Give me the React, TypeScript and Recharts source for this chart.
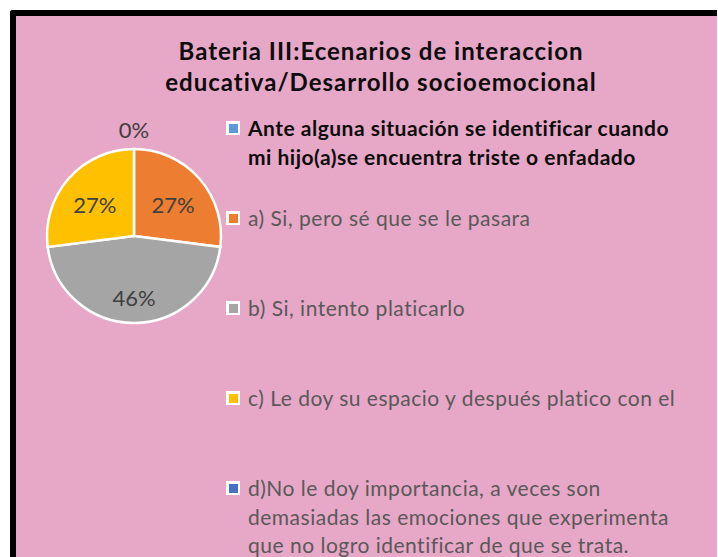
import React from "react";
import { PieChart, Pie, Cell, Legend } from "recharts";

const title = ["Bateria III:Ecenarios de interaccion", "educativa/Desarrollo socioemocional"];

const categories = [
  "Ante alguna situación se identificar cuando mi hijo(a)se encuentra triste o enfadado",
  "a) Si, pero sé que se le pasara",
  "b) Si, intento platicarlo",
  "c) Le doy su espacio y después platico con el",
  "d)No le doy importancia, a veces son demasiadas las emociones que experimenta que no logro identificar de que se trata.",
];
const values = [0, 27, 46, 27, 0];
const colors = ["#5B9BD5", "#ED7D31", "#A5A5A5", "#FFC000", "#4472C4"];

const chartData = categories.map((name, i) => ({ name, value: values[i], fill: colors[i] }));

const FONT = "Lato, 'Open Sans', sans-serif";
const RAD = Math.PI / 180;

const renderLabel = (props: any) => {
  const { cx, cy, midAngle, outerRadius, percent, index } = props;
  // header entry and d) both sit at 12 o'clock, draw only one 0%
  if (index === 0) return null;
  const r = percent === 0 ? outerRadius + 20 : percent > 0.4 ? outerRadius * 0.71 : outerRadius * 0.6;
  const x = cx + r * Math.cos(-midAngle * RAD);
  const y = cy + r * Math.sin(-midAngle * RAD) + (percent > 0 && percent < 0.4 ? 3 : 0);
  return (
    <text x={x} y={y} fill="#404040" fontSize={22} fontFamily={FONT} textAnchor="middle" dominantBaseline="central">
      {`${Math.round(percent * 100)}%`}
    </text>
  );
};

const renderLegend = (props: any) => {
  const payload = props.payload || [];
  return (
    <div style={{ fontFamily: FONT }}>
      {payload.map((entry: any, i: number) => (
        <div key={i} style={{ display: "flex", alignItems: "flex-start", minHeight: 90 }}>
          <div
            style={{
              width: 14,
              height: 14,
              marginTop: 7,
              marginLeft: 4,
              background: "#fff",
              display: "flex",
              alignItems: "center",
              justifyContent: "center",
              flexShrink: 0,
            }}
          >
            <div style={{ width: 9, height: 9, background: colors[i] }} />
          </div>
          <div
            style={{
              marginLeft: 8,
              width: 442,
              fontSize: 21,
              letterSpacing: 0.5,
              lineHeight: "28.5px",
              color: i === 0 ? "#0d0d0d" : "#595959",
              fontWeight: i === 0 ? 700 : 400,
            }}
          >
            {entry.value}
          </div>
        </div>
      ))}
    </div>
  );
};

export default function App() {
  return (
    <div style={{ position: "fixed", left: 0, top: 0, width: 718, height: 557, background: "#fff", overflow: "hidden" }}>
      <div
        style={{
          position: "absolute",
          left: 10,
          top: 10,
          width: 707,
          height: 560,
          boxSizing: "border-box",
          borderTop: "6px solid #000",
          borderLeft: "6px solid #000",
          borderTopLeftRadius: 3,
          background: "#E7A7C6",
        }}
      />
      <div
        style={{
          position: "absolute",
          left: 60,
          top: 35,
          width: 642,
          textAlign: "center",
          fontFamily: FONT,
          fontWeight: 700,
          fontSize: 24,
          letterSpacing: 1,
          lineHeight: "31px",
          color: "#0d0d0d",
        }}
      >
        {title.map((t, i) => (
          <div key={i}>{t}</div>
        ))}
      </div>
      <div style={{ position: "absolute", left: 0, top: 0 }}>
        <PieChart width={718} height={557} margin={{ top: 0, right: 0, bottom: 0, left: 0 }}>
          <Pie
            data={chartData}
            dataKey="value"
            nameKey="name"
            cx={134}
            cy={236}
            outerRadius={87}
            startAngle={90}
            endAngle={-270}
            stroke="#fff"
            strokeWidth={2.5}
            label={renderLabel}
            labelLine={false}
            isAnimationActive={false}
          >
            {chartData.map((d, i) => (
              <Cell key={i} fill={d.fill} />
            ))}
          </Pie>
          <Legend
            content={renderLegend}
            wrapperStyle={{ position: "absolute", left: 222, top: 114, width: 490 }}
          />
        </PieChart>
      </div>
    </div>
  );
}
